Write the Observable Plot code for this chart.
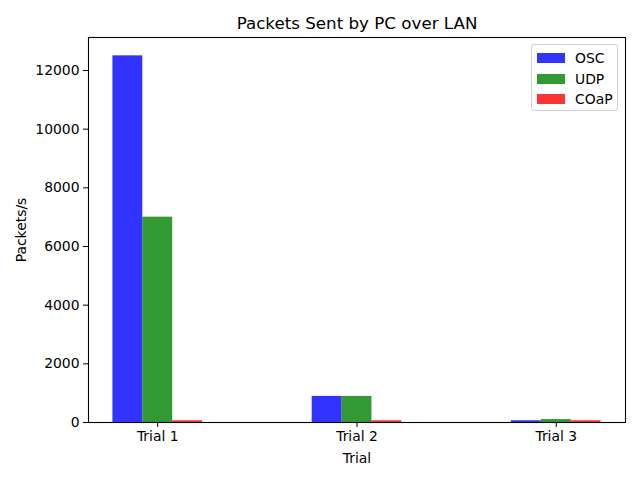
<!DOCTYPE html>
<html>
<head>
<meta charset="utf-8">
<script src="https://cdn.jsdelivr.net/npm/d3@7"></script>
<script src="https://cdn.jsdelivr.net/npm/@observablehq/plot@0.6"></script>
<style>
  html, body { margin: 0; padding: 0; background: #fff; }
  #wrap { position: relative; width: 640px; height: 480px; font-family: "DejaVu Sans", sans-serif; }
  #legend { position: absolute; left: 531px; top: 44px; width: 87px; height: 67px; border: 1px solid #d0d0d0; border-radius: 3px; background: rgba(255,255,255,0.8); box-sizing: border-box; }
  .item { position: absolute; left: 5px; height: 14px; display: flex; align-items: center; font-size: 13.9px; color: #000; }
  .sw { width: 28px; height: 10px; margin-right: 10px; }
</style>
</head>
<body>
<div id="wrap"><div id="legend"></div></div>
<script>
const trials = ["Trial 1", "Trial 2", "Trial 3"];
const seriesNames = ["OSC", "UDP", "COaP"];
const seriesColors = ["blue", "green", "red"];
const osc = [12500, 890, 60];
const udp = [7000, 890, 100];
const coap = [60, 60, 60];
const yTicks = [0, 2000, 4000, 6000, 8000, 10000, 12000];
const title = "Packets Sent by PC over LAN";

const barWidth = 0.15;
const seriesValues = [osc, udp, coap];
const rows = [];
seriesValues.forEach((vals, s) => {
  vals.forEach((v, i) => {
    rows.push({trial: trials[i], series: seriesNames[s], color: seriesColors[s],
      x1: i + s * barWidth - barWidth / 2, x2: i + s * barWidth + barWidth / 2, value: v});
  });
});
const xmin = -barWidth / 2, xmax = trials.length - 1 + 2 * barWidth + barWidth / 2;
const pad = (xmax - xmin) * 0.05;
const ymax = d3.max(osc.concat(udp, coap)) * 1.05;

const chart = Plot.plot({
  width: 640,
  height: 480,
  marginLeft: 88,
  marginRight: 15,
  marginTop: 37,
  marginBottom: 58,
  style: {fontFamily: "DejaVu Sans, sans-serif", fontSize: "13.9px", color: "#000", background: "#fff"},
  x: {
    type: "linear",
    domain: [xmin - pad, xmax + pad],
    ticks: trials.map((t, i) => i + barWidth),
    tickFormat: d => trials[Math.round(d - barWidth)],
    tickSize: 5,
    tickPadding: 4,
    label: "Trial",
    labelAnchor: "center",
    labelArrow: "none",
    labelOffset: 40
  },
  y: {
    domain: [0, ymax],
    ticks: yTicks,
    tickFormat: d => String(d),
    tickSize: 5,
    tickPadding: 4,
    label: "Packets/s",
    labelAnchor: "center",
    labelArrow: "none",
    labelOffset: 72
  },
  marks: [
    Plot.rectY(rows, {x1: "x1", x2: "x2", y1: 0, y2: "value", fill: "color", fillOpacity: 0.8}),
    Plot.frame({stroke: "#000", strokeWidth: 1.1}),
    Plot.text([title], {frameAnchor: "top", dy: -20, fontSize: 16.7, fill: "#000"})
  ]
});
chart.style.position = "absolute";
chart.style.left = "0";
chart.style.top = "0";
const wrap = document.getElementById("wrap");
wrap.insertBefore(chart, wrap.firstChild);

const legend = document.getElementById("legend");
const fills = {blue: "rgba(0,0,255,0.8)", green: "rgba(0,128,0,0.8)", red: "rgba(255,0,0,0.8)"};
seriesNames.forEach((name, s) => {
  const it = document.createElement("div");
  it.className = "item";
  it.style.top = (6 + s * 20.5) + "px";
  const sw = document.createElement("div");
  sw.className = "sw";
  sw.style.background = fills[seriesColors[s]];
  it.appendChild(sw);
  it.appendChild(document.createTextNode(name));
  legend.appendChild(it);
});
</script>
</body>
</html>
